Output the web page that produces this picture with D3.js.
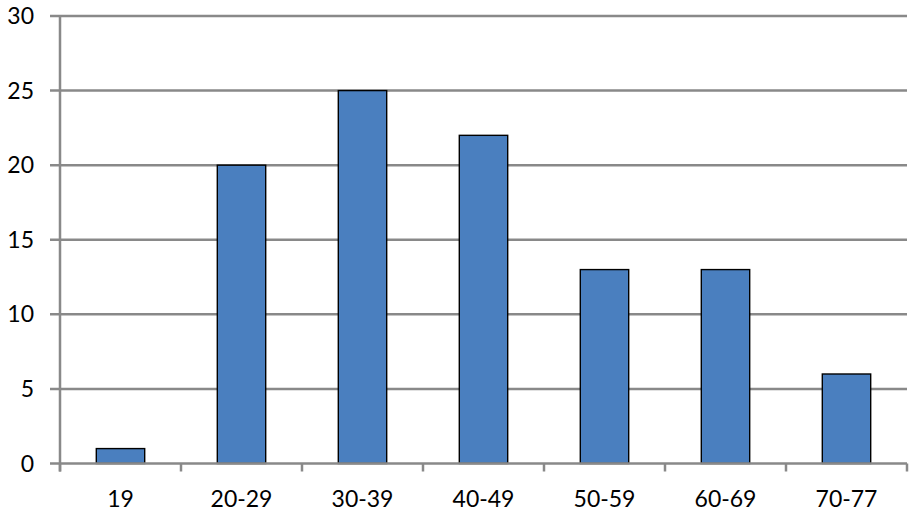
<!DOCTYPE html>
<html><head><meta charset="utf-8">
<script src="https://cdn.jsdelivr.net/npm/d3@7"></script>
<style>body{margin:0;background:#fff}svg{display:block}</style>
</head><body>
<svg id="c" width="912" height="515"></svg>
<script>
const categories = ["19","20-29","30-39","40-49","50-59","60-69","70-77"];
const values = [1,20,25,22,13,13,6];
const yTicks = [0,5,10,15,20,25,30];

const svg = d3.select("#c");
const L = 60, R = 907, T = 16, B = 463.5;
const x = d3.scaleBand().domain(categories).range([L, R]).paddingInner(0.6).paddingOuter(0.3);
const y = d3.scaleLinear().domain([0, 30]).range([B, T]);
const grey = "#898989";
const font = "Lato, 'Open Sans', sans-serif";

// gridlines
svg.append("g").selectAll("line").data(yTicks.filter(d => d > 0)).join("line")
  .attr("x1", L - 10).attr("x2", R).attr("y1", d => y(d)).attr("y2", d => y(d))
  .attr("stroke", grey).attr("stroke-width", 2.5);

// y labels
svg.append("g").selectAll("text").data(yTicks).join("text")
  .attr("x", 34).attr("y", d => y(d)).attr("dy", "0.35em")
  .attr("text-anchor", "end").attr("font-family", font).attr("font-size", 23)
  .attr("fill", "#000").text(d => d);

// bars
svg.append("g").selectAll("rect").data(values).join("rect")
  .attr("x", (d, i) => x(categories[i])).attr("width", x.bandwidth())
  .attr("y", d => y(d)).attr("height", d => y(0) - y(d))
  .attr("fill", "#4A7FBF").attr("stroke", "#000").attr("stroke-width", 1.4);

// axes lines
svg.append("line").attr("x1", L).attr("x2", L).attr("y1", T - 1).attr("y2", B + 8)
  .attr("stroke", grey).attr("stroke-width", 2.5);
svg.append("line").attr("x1", L - 10).attr("x2", R).attr("y1", B).attr("y2", B)
  .attr("stroke", grey).attr("stroke-width", 2.5);
// category boundary ticks
const edges = d3.range(categories.length + 1).map(i => L + i * x.step());
svg.append("g").selectAll("line").data(edges).join("line")
  .attr("x1", d => d).attr("x2", d => d).attr("y1", B).attr("y2", B + 8)
  .attr("stroke", grey).attr("stroke-width", 2.5);

// x labels
svg.append("g").selectAll("text").data(categories).join("text")
  .attr("x", d => x(d) + x.bandwidth() / 2).attr("y", 507)
  .attr("text-anchor", "middle").attr("font-family", font).attr("font-size", 23)
  .attr("fill", "#000").text(d => d);
</script>
</body></html>
